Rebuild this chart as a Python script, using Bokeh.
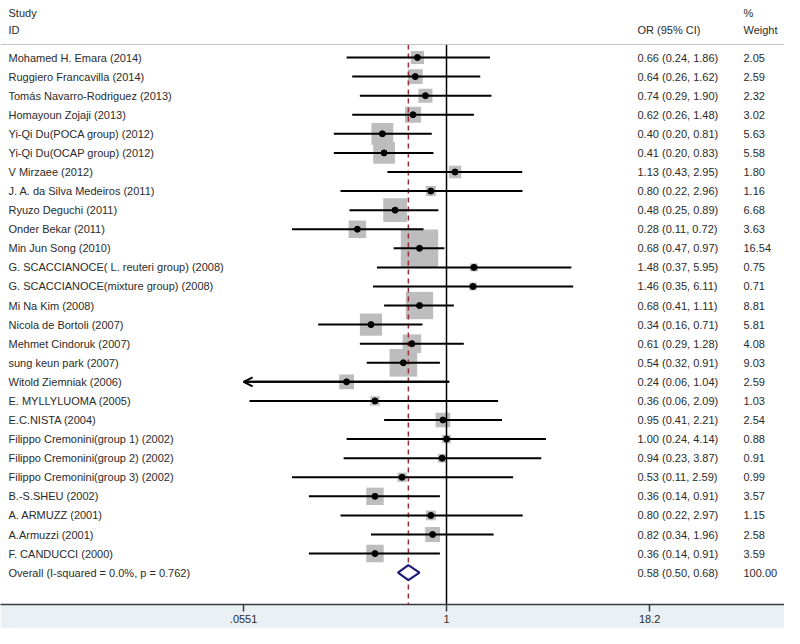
import numpy as np
from bokeh.plotting import figure
from bokeh.models import ColumnDataSource, Range1d, FixedTicker, Arrow, OpenHead, Span
from bokeh.core.properties import value
from bokeh.embed import file_html
from bokeh.resources import INLINE

studies = [
    "Mohamed H. Emara (2014)", "Ruggiero Francavilla (2014)", "Tomás Navarro-Rodriguez (2013)",
    "Homayoun Zojaji (2013)", "Yi-Qi Du(POCA  group) (2012)", "Yi-Qi Du(OCAP  group) (2012)",
    "V Mirzaee (2012)", "J. A. da Silva Medeiros (2011)", "Ryuzo Deguchi (2011)",
    "Onder Bekar (2011)", "Min Jun Song (2010)", "G. SCACCIANOCE( L. reuteri group) (2008)",
    "G. SCACCIANOCE(mixture group) (2008)", "Mi Na Kim (2008)", "Nicola de Bortoli (2007)",
    "Mehmet Cindoruk (2007)", "sung keun park (2007)", "Witold Ziemniak (2006)",
    "E. MYLLYLUOMA (2005)", "E.C.NISTA (2004)", "Filippo Cremonini(group 1) (2002)",
    "Filippo Cremonini(group 2) (2002)", "Filippo Cremonini(group 3) (2002)", "B.-S.SHEU (2002)",
    "A. ARMUZZ (2001)", "A.Armuzzi (2001)", "F. CANDUCCI (2000)",
]
odds = [0.66, 0.64, 0.74, 0.62, 0.40, 0.41, 1.13, 0.80, 0.48, 0.28, 0.68, 1.48, 1.46, 0.68,
        0.34, 0.61, 0.54, 0.24, 0.36, 0.95, 1.00, 0.94, 0.53, 0.36, 0.80, 0.82, 0.36]
lower = [0.24, 0.26, 0.29, 0.26, 0.20, 0.20, 0.43, 0.22, 0.25, 0.11, 0.47, 0.37, 0.35, 0.41,
         0.16, 0.29, 0.32, 0.055, 0.06, 0.41, 0.24, 0.23, 0.11, 0.14, 0.22, 0.34, 0.14]
upper = [1.86, 1.62, 1.90, 1.48, 0.81, 0.83, 2.95, 2.96, 0.89, 0.72, 0.97, 5.95, 6.11, 1.11,
         0.71, 1.28, 0.91, 1.04, 2.09, 2.21, 4.14, 3.87, 2.59, 0.91, 2.97, 1.96, 0.91]
weights = [2.05, 2.59, 2.32, 3.02, 5.63, 5.58, 1.80, 1.16, 6.68, 3.63, 16.54, 0.75, 0.71, 8.81,
           5.81, 4.08, 9.03, 2.59, 1.03, 2.54, 0.88, 0.91, 0.99, 3.57, 1.15, 2.58, 3.59]
ci_text = ["0.66 (0.24, 1.86)", "0.64 (0.26, 1.62)", "0.74 (0.29, 1.90)", "0.62 (0.26, 1.48)",
           "0.40 (0.20, 0.81)", "0.41 (0.20, 0.83)", "1.13 (0.43, 2.95)", "0.80 (0.22, 2.96)",
           "0.48 (0.25, 0.89)", "0.28 (0.11, 0.72)", "0.68 (0.47, 0.97)", "1.48 (0.37, 5.95)",
           "1.46 (0.35, 6.11)", "0.68 (0.41, 1.11)", "0.34 (0.16, 0.71)", "0.61 (0.29, 1.28)",
           "0.54 (0.32, 0.91)", "0.24 (0.06, 1.04)", "0.36 (0.06, 2.09)", "0.95 (0.41, 2.21)",
           "1.00 (0.24, 4.14)", "0.94 (0.23, 3.87)", "0.53 (0.11, 2.59)", "0.36 (0.14, 0.91)",
           "0.80 (0.22, 2.97)", "0.82 (0.34, 1.96)", "0.36 (0.14, 0.91)"]
weight_text = ["2.05", "2.59", "2.32", "3.02", "5.63", "5.58", "1.80", "1.16", "6.68", "3.63",
               "16.54", "0.75", "0.71", "8.81", "5.81", "4.08", "9.03", "2.59", "1.03", "2.54",
               "0.88", "0.91", "0.99", "3.57", "1.15", "2.58", "3.59"]
overall_label = "Overall  (I-squared = 0.0%, p = 0.762)"
overall_or, overall_lo, overall_hi = 0.58, 0.50, 0.68
overall_ci_text = "0.58 (0.50, 0.68)"
overall_weight_text = "100.00"
tick_values = [0.0551, 1, 18.2]
tick_labels = [".0551", "1", "18.2"]

# ---- layout (pixels) ----
W, H = 784, 628
AXIS_H = 24
FRAME_H = H - AXIS_H
PX_PER_LN = 70.0
X0_PX = 446.0           # frame x of OR = 1
ROW0_PX = 57.0          # frame y of first row
ROW_PX = 19.08
axis_min = tick_values[0]

def px_to_x(px):
    return float(np.exp((px - X0_PX) / PX_PER_LN))

def py_to_r(py):
    return (py - ROW0_PX) / ROW_PX

FONT = value("Liberation Sans")
FS = value("11px")
TXT = "#2b2b2b"

p = figure(width=W, height=H, output_backend="svg", toolbar_location=None,
           x_axis_type="log", y_axis_location=None,
           x_range=Range1d(px_to_x(0), px_to_x(W)),
           y_range=Range1d(py_to_r(FRAME_H), py_to_r(0)),
           min_border_left=0, min_border_right=0, min_border_top=0,
           min_border_bottom=AXIS_H)
p.xgrid.visible = False
p.ygrid.visible = False
p.outline_line_color = None
p.background_fill_color = "white"
p.border_fill_color = "#eaf1f4"

n = len(studies)
rows = list(range(n))
overall_row = n
lo_clip = [max(l, axis_min) for l in lower]
side = [9.2 * np.sqrt(w) for w in weights]

src = ColumnDataSource(dict(y=rows, est=odds, lo=lo_clip, hi=upper, side=side,
                            name=studies, ci=ci_text, wt=weight_text))

header_r = py_to_r(44)
top_r = header_r
bot_r = py_to_r(FRAME_H)

# header line
p.add_layout(Span(location=header_r, dimension="width", line_color="#c4c4c4", line_width=1))

# weight boxes
p.scatter(x="est", y="y", size="side", marker="square", source=src,
          fill_color="#bdbdbd", line_color=None)

# null line and overall dashed line
p.segment(x0=[1], y0=[top_r], x1=[1], y1=[bot_r], line_color="black", line_width=1.5)
p.segment(x0=[overall_or], y0=[top_r], x1=[overall_or], y1=[bot_r],
          line_color="#9b2d3a", line_width=1.5, line_dash="5 4")

# CI lines
p.segment(x0="lo", y0="y", x1="hi", y1="y", source=src, line_color="black", line_width=2)
clipped = [i for i in rows if lower[i] < axis_min]
if clipped:
    asrc = ColumnDataSource(dict(xs=[upper[i] for i in clipped], xe=[axis_min] * len(clipped),
                                 y=[rows[i] for i in clipped]))
    p.add_layout(Arrow(end=OpenHead(size=9, line_width=2, line_color="black"),
                       x_start="xs", y_start="y", x_end="xe", y_end="y",
                       line_width=2, line_color="black", source=asrc))

# point estimates
p.scatter(x="est", y="y", size=6, marker="circle", source=src,
          fill_color="black", line_color="black")

# overall diamond
dh = 7.5 / ROW_PX
p.patch(x=[overall_lo, overall_or, overall_hi, overall_or],
        y=[overall_row, overall_row - dh, overall_row, overall_row + dh],
        fill_color="white", line_color="#1b1b78", line_width=2.2)

# texts
label_x = px_to_x(8)
ci_x = px_to_x(637)
wt_x = px_to_x(743)
p.text(x=label_x, y="y", text="name", source=src, text_font=FONT, text_font_size=FS,
       text_color=TXT, text_baseline="middle", text_align="left")
p.text(x=ci_x, y="y", text="ci", source=src, text_font=FONT, text_font_size=FS,
       text_color=TXT, text_baseline="middle", text_align="left")
p.text(x=wt_x, y="y", text="wt", source=src, text_font=FONT, text_font_size=FS,
       text_color=TXT, text_baseline="middle", text_align="left")

hsrc = ColumnDataSource(dict(
    x=[label_x, label_x, ci_x, wt_x, wt_x, label_x, ci_x, wt_x],
    y=[py_to_r(12), py_to_r(29), py_to_r(29), py_to_r(12), py_to_r(29),
       overall_row, overall_row, overall_row],
    t=["Study", "ID", "OR (95% CI)", "%", "Weight", overall_label, overall_ci_text,
       overall_weight_text]))
p.text(x="x", y="y", text="t", source=hsrc, text_font=FONT, text_font_size=FS,
       text_color=TXT, text_baseline="middle", text_align="left")

# axis
ax = p.xaxis[0]
ax.ticker = FixedTicker(ticks=tick_values)
ax.major_label_overrides = {v: s for v, s in zip(tick_values, tick_labels)}
ax.minor_tick_line_color = None
ax.major_tick_in = 0
ax.major_tick_out = 7
ax.major_tick_line_width = 1.5
ax.major_tick_line_color = "#3a3a3a"
ax.axis_line_color = "#3a3a3a"
ax.axis_line_width = 1.5
ax.major_label_standoff = 3
ax.major_label_text_font = "Liberation Sans"
ax.major_label_text_font_size = "11px"
ax.major_label_text_color = TXT

open("out.html", "w").write(file_html(p, INLINE))
